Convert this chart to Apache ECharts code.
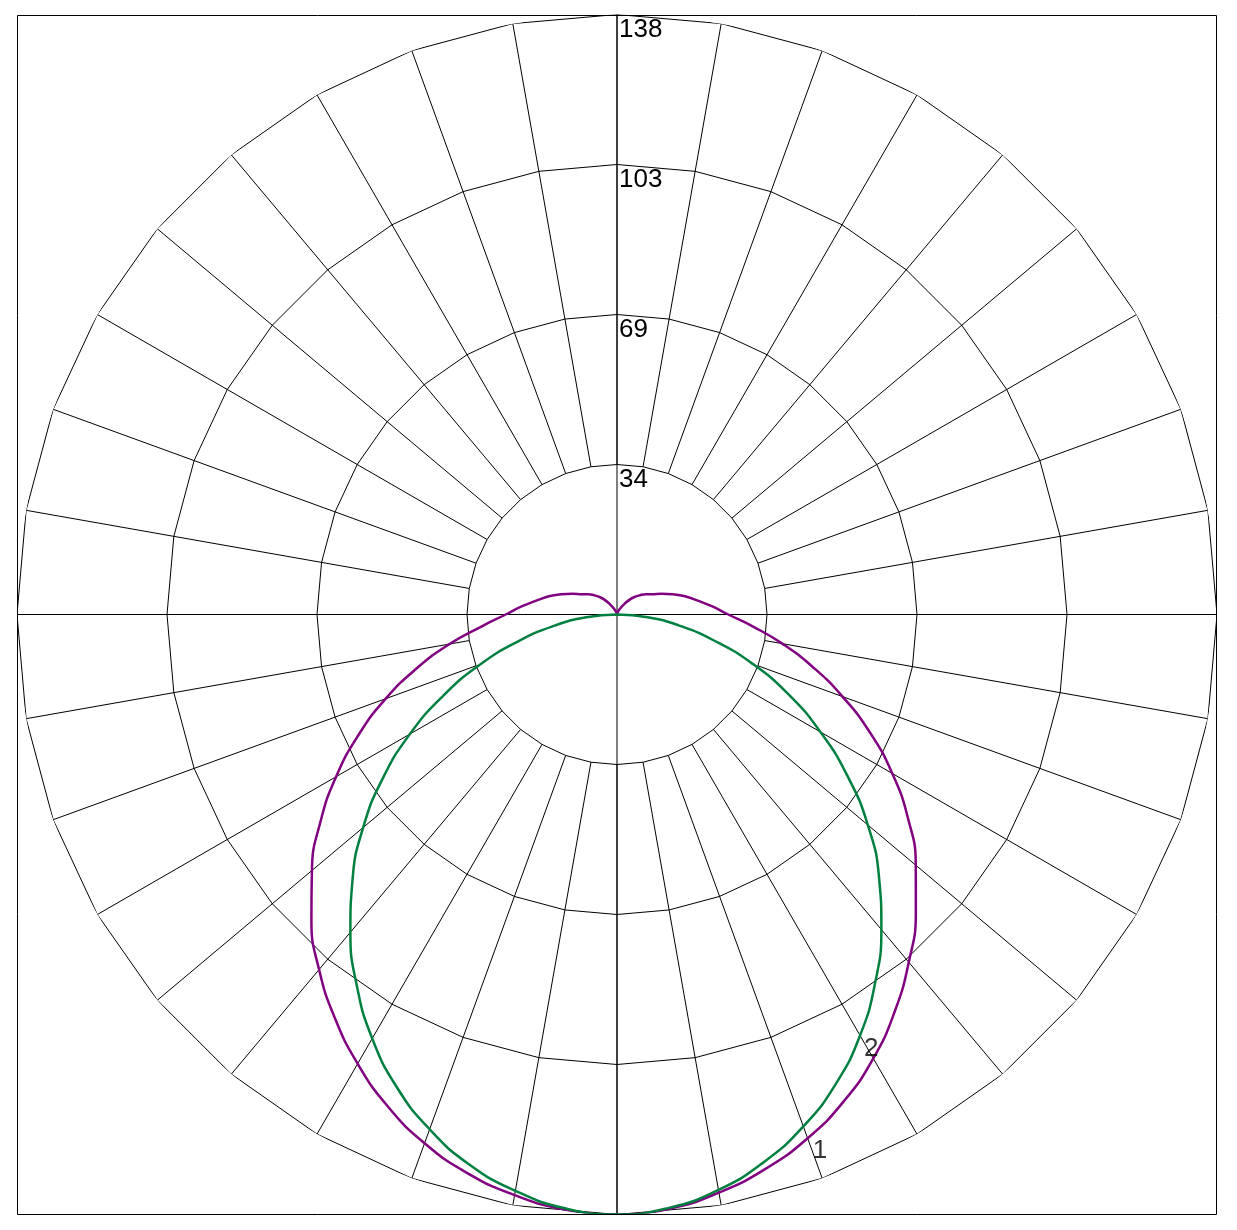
<!DOCTYPE html>
<html><head><meta charset="utf-8">
<script src="https://cdn.jsdelivr.net/npm/echarts@6/dist/echarts.min.js"></script>
<style>html,body{margin:0;padding:0;background:#fff}#c{width:1237px;height:1230px}</style>
</head><body><div id="c"></div>
<script>
// Photometric angles (gamma, degrees from nadir) and intensities, right (+) and left (-) half-planes
const gammaAngles = [0,5,10,15,20,25,30,35,40,45,50,55,60,65,70,75,80,85,90,95,100,105,110,115,120,125,130,135,140,145,150,155,160,165,170,175,180];
const curve1Right = [138,137.2,135.0,132.0,128.2,123.5,117.9,111.4,104.4,97.2,89.7,81.7,73.1,64.2,55.2,46.6,38.6,31.3,25.6,21.9,18.7,16.2,13.6,11.3,9.3,8.1,6.9,5.7,4.4,3.0,1.9,1.2,0.7,0.4,0.2,0.1,0];
const curve1Left  = [138,137.4,135.6,133.0,129.4,124.8,119.3,113.2,106.6,99.4,91.6,83.3,74.6,65.6,56.6,47.6,39.1,31.2,25.6,21.9,18.7,16.2,13.6,11.3,9.3,8.1,6.9,5.7,4.4,3.0,1.9,1.2,0.7,0.4,0.2,0.1,0];
const curve2Angles = [0,5,10,15,20,25,30,35,40,45,50,55,60,65,70,75,80,85,90];
const curve2Right = [138,137.0,134.4,130.4,125.3,119.1,111.8,103.5,94.6,85.2,75.3,64.7,54.0,43.6,33.2,23.1,14.4,7.1,0];
const curve2Left  = [138,137.1,134.6,131.0,126.0,119.9,112.6,104.3,95.4,86.0,76.2,65.8,55.0,44.0,33.4,23.2,14.4,7.1,0];
const ringValues = [34.5, 69, 103.5, 138];
const tickLabels = ['34', '69', '103', '138'];
const curveNames = ['1', '2'];
const curveLabelAngles = [20, 30];

const FONT = 'Liberation Sans, Arial, sans-serif';

function bothSides(angles, right, left) {
  const pts = [];
  for (let i = angles.length - 1; i >= 1; i--) pts.push([left[i], -angles[i]]);
  for (let i = 0; i < angles.length; i++) pts.push([right[i], angles[i]]);
  return pts;
}

const gridStyle = { color: '#000', width: 1 };
const series = [];
// polygon rings
ringValues.forEach(function (rv) {
  const d = [];
  for (let a = -180; a <= 180; a += 10) d.push([rv, a]);
  series.push({ type: 'line', coordinateSystem: 'polar', data: d, symbol: 'none', silent: true,
    lineStyle: gridStyle, z: 1, animation: false });
});
// spokes from inner ring to outer ring
const spokes = [];
for (let a = -170; a <= 180; a += 10) {
  spokes.push([ringValues[0], a], [ringValues[ringValues.length - 1], a], '-');
}
series.push({ type: 'line', coordinateSystem: 'polar', data: spokes, symbol: 'none', silent: true,
  lineStyle: gridStyle, z: 1, animation: false });
// full cross through the centre
const rMax = ringValues[ringValues.length - 1];
series.push({ type: 'line', coordinateSystem: 'polar',
  data: [[rMax, 180], [rMax, 0], '-', [rMax, -90], [rMax, 90]],
  symbol: 'none', silent: true, lineStyle: gridStyle, z: 1, animation: false });
// curves
series.push({ name: curveNames[0], type: 'line', coordinateSystem: 'polar',
  data: bothSides(gammaAngles, curve1Right, curve1Left),
  symbol: 'none', smooth: 0.5, lineStyle: { color: '#800080', width: 2.5 }, z: 3, animation: false });
series.push({ name: curveNames[1], type: 'line', coordinateSystem: 'polar',
  data: bothSides(curve2Angles, curve2Right, curve2Left),
  symbol: 'none', smooth: 0.5, lineStyle: { color: '#008040', width: 2.5 }, z: 4, animation: false });
// curve labels
const lab1 = [curve1Right[gammaAngles.indexOf(curveLabelAngles[0])], curveLabelAngles[0]];
const lab2 = [curve2Right[curve2Angles.indexOf(curveLabelAngles[1])], curveLabelAngles[1]];
[[lab1, curveNames[0], [5, 0]], [lab2, curveNames[1], [4, 0]]].forEach(function (p) {
  series.push({ type: 'scatter', coordinateSystem: 'polar', data: [p[0]], symbolSize: 0, silent: true, z: 5,
    animation: false,
    label: { show: true, formatter: p[1], position: p[2], align: 'left', verticalAlign: 'top',
      fontSize: 26, color: '#000', fontFamily: FONT } });
});

const chart = echarts.init(document.getElementById('c'));
chart.setOption({
  animation: false,
  backgroundColor: '#fff',
  polar: { center: [617, 614.5], radius: 600 },
  angleAxis: { type: 'value', min: -180, max: 180, startAngle: 90, clockwise: false,
    axisLine: { show: false }, axisTick: { show: false }, axisLabel: { show: false }, splitLine: { show: false } },
  radiusAxis: { type: 'value', min: 0, max: rMax, interval: ringValues[0],
    axisLine: { show: false }, axisTick: { show: false }, splitLine: { show: false },
    axisLabel: { show: true, showMinLabel: false, margin: -2, align: 'left', verticalAlign: 'top',
      fontSize: 26, lineHeight: 31, color: '#000', fontFamily: FONT,
      formatter: function (v) {
        for (let i = 0; i < ringValues.length; i++) if (Math.abs(ringValues[i] - v) < 0.01) return tickLabels[i];
        return '';
      } } },
  graphic: [{ type: 'rect', shape: { x: 17.5, y: 15.5, width: 1199, height: 1199 }, silent: true,
    style: { fill: 'none', stroke: '#000', lineWidth: 1 }, z: 10 }],
  series: series
});
</script></body></html>
